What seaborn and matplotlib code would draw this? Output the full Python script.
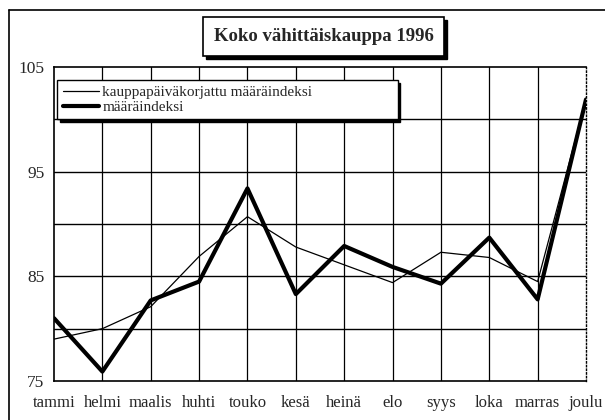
import numpy as np
import pandas as pd
import matplotlib
matplotlib.use("Agg")
import matplotlib.pyplot as plt
from matplotlib.patches import Rectangle
from matplotlib.lines import Line2D
import seaborn as sns

# Kuukaudet ja indeksit (luettu kuvasta)
kuukaudet = ['tammi', 'helmi', 'maalis', 'huhti', 'touko', 'kesä',
             'heinä', 'elo', 'syys', 'loka', 'marras', 'joulu']
korjattu = [79.0, 80.0, 82.1, 86.9, 90.7, 87.8, 86.1, 84.4, 87.3, 86.8, 84.5, 101.9]
maaraindeksi = [81.0, 75.9, 82.7, 84.5, 93.4, 83.3, 87.9, 85.9, 84.3, 88.7, 82.8, 101.9]
y_ticks = [75, 85, 95, 105]
y_grid = [80, 85, 90, 95, 100]

sns.set_style("white")
plt.rcParams['font.family'] = ['Liberation Serif', 'DejaVu Serif']

df = pd.DataFrame({'kk': np.arange(len(kuukaudet)),
                   'korjattu': korjattu,
                   'maara': maaraindeksi})

fig = plt.figure(figsize=(6.05, 4.2), dpi=100)
ax = fig.add_axes([54/605, 39/420, 532/605, 314/420])

# ruudukko
for g in y_grid:
    ax.axhline(g, color='black', lw=1.0, zorder=1)
for i in df['kk'][1:-1]:
    ax.axvline(i, color='black', lw=0.9, zorder=1)

sns.lineplot(data=df, x='kk', y='korjattu', ax=ax, color='black', lw=0.9,
             label='kauppapäiväkorjattu määräindeksi', zorder=3)
sns.lineplot(data=df, x='kk', y='maara', ax=ax, color='black', lw=3.0,
             label='määräindeksi', zorder=4)

ax.set_xlim(0, 11)
ax.set_ylim(75, 105)
ax.set_xticks(df['kk'])
ax.set_xticklabels(kuukaudet, fontsize=12)
ax.set_yticks(y_ticks)
ax.set_yticklabels([str(v) for v in y_ticks], fontsize=12.5)
ax.set_xlabel('')
ax.set_ylabel('')
ax.tick_params(axis='x', direction='out', length=4, width=0.9, pad=6, color='black')
ax.tick_params(axis='y', direction='out', length=5, width=0.9, pad=2, color='black')
for s in ['left', 'bottom', 'top']:
    ax.spines[s].set_color('black')
    ax.spines[s].set_linewidth(1.2)
ax.spines['right'].set_color('black')
ax.spines['right'].set_linestyle(':')
ax.spines['right'].set_linewidth(1.0)

leg = ax.legend(loc='upper left', bbox_to_anchor=(0.006, 0.959, 0.64, 0.0),
                mode='expand', fontsize=11, frameon=True, fancybox=False,
                shadow={'color': 'black', 'alpha': 1.0, 'ox': 2, 'oy': -2},
                handlelength=2.4, handletextpad=0.2, borderpad=0.35,
                labelspacing=0.1, borderaxespad=0)
leg.get_frame().set_edgecolor('black')
leg.get_frame().set_linewidth(1.0)
leg.get_frame().set_alpha(1.0)

# otsikkolaatikko varjoineen
x0, y0, w, h = 203/605, 1 - 56/420, 241/605, 39/420
fig.patches.append(Rectangle((x0 + 3/605, y0 - 3/420), w, h, transform=fig.transFigure,
                             facecolor='black', edgecolor='black', zorder=5))
fig.patches.append(Rectangle((x0, y0), w, h, transform=fig.transFigure,
                             facecolor='white', edgecolor='black', lw=1.2, zorder=6))
fig.text(x0 + w/2, y0 + h/2, 'Koko vähittäiskauppa 1996', ha='center', va='center',
         fontsize=13.5, fontweight='bold', zorder=7)

# kuvan reunat
fig.lines.append(Line2D([9/605, 9/605], [0, 1 - 10/420], transform=fig.transFigure,
                        color='black', lw=1.2))
fig.lines.append(Line2D([9/605, 1], [1 - 10/420, 1 - 10/420], transform=fig.transFigure,
                        color='black', lw=1.2))

fig.savefig('out.png', dpi=100)
